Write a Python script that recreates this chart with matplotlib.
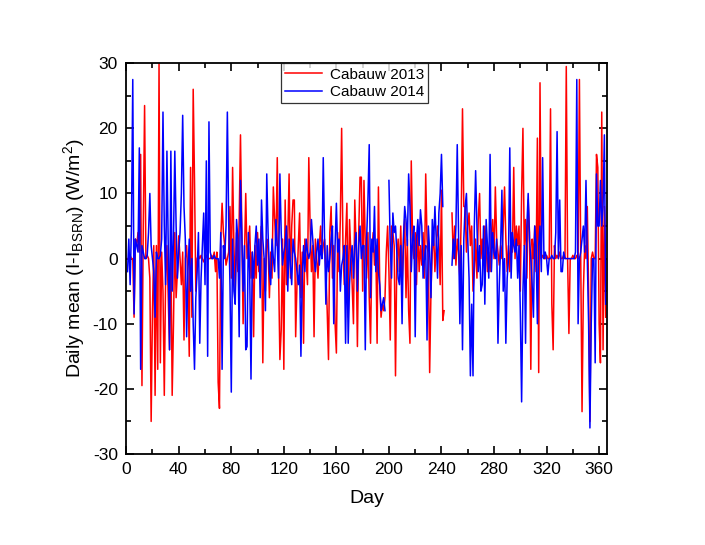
import numpy as np
import matplotlib.pyplot as plt
from matplotlib.ticker import MultipleLocator

nan = np.nan

# daily mean deviation (W/m2), day 1..365
cabauw_2013 = [
    0, 0, 0.5, 0, 0, -9, 3, 2, 4, 1,
    16, -19.5, 5, 23.5, 0, 0.5, 0, -3, -25, -8,
    2, -21, 2, -17, 30, -16, 1, -5, -21, -3,
    2, -6, -14, 3, -21, -10, 4, -6, -2, 3.5,
    0, -4, 1, -12.5, 0, 2, -3, -15, 14, -9,
    26, 12, -5, 0, 0.5, 0, 0.5, 0, -0.5, 0,
    0.5, 0, 0, 0, 0.5, 0, 1, -2, 1, -19,
    -23, 3, 8.5, 4, 2, -1, 0, 1, 8, -3,
    14, 2, -5, 4, -2, 6, 19, 5, -10, 0,
    10, 0, 2, 5, -3, 1, -12, 2, -3, 4,
    -2, 2, 5, -16, 0, -5, 3, 2, -6, 1,
    -3, 11, 6, 2, 15.5, -2, -15.5, -11, 3, -17,
    9, -4, 3, 13, -3, 5, 9, 9, -12, -4,
    2, 7, -6, 1, -13, 3, 0, -4, 15.5, 5,
    -2, 2, -12, 3, 0, -3, 2, 5, 0, 2,
    3, -2, -8, -15.5, 4, 8, -3, 2, -10, -14.5,
    4, -2, 6, 20, 2, -4, 3, 8.5, -9, 6,
    1, -4, -10, 9, 2, -13.5, 4, 12.5, 12.5, -5,
    12, 2, -3, 4, -6, -13, 1, 4, -1, 2,
    -13, 11, -4, -9, -7, -8, -6, 1, 5, -2,
    -12.5, 5, 4, 2, -18, 0, 3, -2, 5, -4,
    2, 6, -6, 3, -8, -13, 15, 3, 0, 4,
    -4, 5, -2, 2, -1, 4, -3, 13, 3, 0,
    -17.5, -5, 1, 4, -2, 2, 5, 3, -4, 10.5,
    -9.5, -8, nan, nan, nan, nan, nan, 7, 0, 5,
    -1, 3, 1, -3, 6, 23, 8, 8, 1, 5,
    7, 2, 5, -5, -2, 3, -3, 6, 10, 0,
    3, -1, 5, 2, -2, 1, -2, 4, 6, 0,
    11, 3, 1, -1, 2, 0, 5, 11, 3, -2,
    2, -2, 4, 1, 14, 0, 5, 2, 5, -5,
    10, 20, 2, 6, -3, 9, 4, -17, 3, 0,
    5, -2, 18.5, -17.5, 27, 0, 0.5, 0, 0, 0.5,
    0, 0, 23, -7, -14, 2, 0, 0.5, 0, 1,
    0, 0, 0.5, 0, 29.5, 0, -11.5, 0, 0, 0.5,
    0, 0, 0.5, 0, 27.5, 0, -23.5, -5, 2, 0,
    8, -5, -25, 0, 1, 0, 0, 16, 14, -10,
    -16, 22.5, -14, 8, -9,
]

cabauw_2014 = [
    -2, 3, -4, 5, 27.5, -8.5, 3, 2, 1, 17,
    -17, 2, 1, 0, 0, 0.5, 4, 10, 2, 0,
    -2, -9, 1, 0, 0, 0.5, 3, 22.5, 5, -4,
    16.5, 2, -14, 16.5, -5, 3, 16.5, 5, -3, 1,
    4, 10, 22, 8, 3, -12, -2, 3, -5, 0,
    -10, -17, -6, -2, 4, -13, -3, 2, 7, -4,
    15, -15, 21, 1, 0, 0, 0.5, 0, 0, 0,
    -3, 4, -17, 2, 0, 5, 22.5, 6, -4, -20.5,
    3, -5, -7, 6, 3, -12, 12, 4, -5, 2,
    -14, -13.5, 4, -2, -18.5, 1, -3, 2, 5, -1,
    3, -6, 9, 3, 0, -8, 13, 4, -2, -4,
    3, 0, -2, 6, 2, -3, 13, 4, -1, 1,
    2, 5, -5, 3, -1, -4, 3, 1, 0, -2,
    -4, -1, -15, -3, 2, -2, 3, 1, 0, 1,
    6, 3, 0, -2, 1, 3, -1, 2, 0, 15.5,
    3, -7, 2, -2, 0, 3, 5, -10, 2, 8.5,
    1, 3, -5, -1, 0, 2, -13, 2, -13, -4,
    0, 2, -3, 2, 4, -5, 2, 5, 0, 2,
    2, -14, 3, 9, 17.5, -6, 3, 1, 8, -2,
    3, -2, -4, -8, -7, -6, -8, nan, nan, 12,
    2, -3, 7, 4, 5, 1, -3, -4, 2, -10,
    3, 8, 6, 2, 13, 8, -2, 3, 5, -12,
    3, 6, 2, 7.5, 5, -3, 0, 2, -12.5, 5,
    1, -6, 6, 2, 8, 3, -3, 7, 10, 16,
    8, nan, nan, nan, nan, nan, nan, -1, 3, 0,
    5, 17.5, 4, -10, 2, -14, 3, 8, 10, 3,
    -3, -18, -7, -18, 5, 13.5, 5, -2, 2, -5,
    -4, 5, -7, 6, 2, -3, 16, -2, 4, 1,
    0, 3, -13, -4, 2, 10.5, -5, 0, -13, -3,
    0, 17, -3, 4, 2, 1, 3, -3, 2, -8,
    -22, -5, 2, -13, 5, 10, 3, 0, -4, -9,
    5, 2, -10, 2, 5, -2, 15.5, 0, 1, 0,
    -2.5, 0, 0, 0.5, 0, 0, 4, 19.5, 0, 9,
    -2, -2, 1, 0, 0, 0, 0, 0, 0, 0,
    0, 1, 27.5, -10, 0, 1, 3, 5, 1, 12,
    0, -10, -26, -10, 0, 0, -16, 13, 5, 5,
    12, 5, 8, 19, -7,
]

days = np.arange(1, len(cabauw_2013) + 1)

plt.rcParams['font.family'] = ['Liberation Sans', 'DejaVu Sans']
plt.rcParams['mathtext.fontset'] = 'custom'
plt.rcParams['mathtext.rm'] = 'Liberation Sans'
plt.rcParams['mathtext.it'] = 'Liberation Sans'
plt.rcParams['axes.unicode_minus'] = False

fig = plt.figure(figsize=(7.05, 5.45), dpi=100)
ax = fig.add_axes([0.179, 0.167, 0.682, 0.717])

ax.plot(days, cabauw_2013, color='#ff0000', lw=1.1, label='Cabauw 2013')
ax.plot(days, cabauw_2014, color='#0000ff', lw=1.1, label='Cabauw 2014')

ax.set_xlim(0, 366)
ax.set_ylim(-30, 30)
ax.xaxis.set_major_locator(MultipleLocator(40))
ax.xaxis.set_minor_locator(MultipleLocator(20))
ax.yaxis.set_major_locator(MultipleLocator(10))
ax.yaxis.set_minor_locator(MultipleLocator(5))
ax.tick_params(which='both', direction='in', top=True, right=True,
               labeltop=False, labelright=False, labelsize=12.5, width=1.2)
ax.tick_params(which='major', length=6)
ax.tick_params(axis='x', which='major', pad=6)
ax.tick_params(axis='y', which='major', pad=6)
ax.tick_params(which='minor', length=3.5)
for s in ax.spines.values():
    s.set_linewidth(1.3)

ax.set_xlabel('Day', fontsize=14, labelpad=9)
ax.set_ylabel(r'Daily mean (I-I$_{\mathrm{BSRN}}$) (W/m$^{\mathrm{2}}$)', fontsize=14, labelpad=4)

leg = ax.legend(loc='upper center', bbox_to_anchor=(0.475, 1.0), fontsize=11,
                frameon=True, fancybox=False, edgecolor='black',
                borderaxespad=0, handlelength=2.4, borderpad=0.3,
                labelspacing=0.2, handletextpad=0.5)
leg.get_frame().set_linewidth(0.9)

fig.savefig('out.png', dpi=100)
